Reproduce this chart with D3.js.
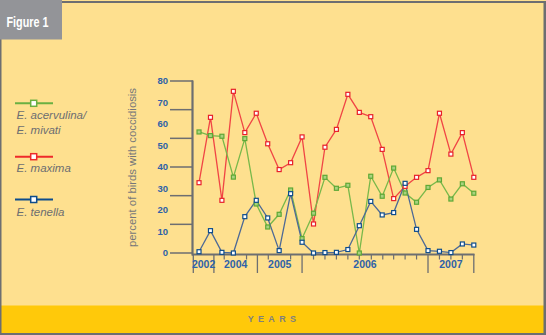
<!DOCTYPE html>
<html><head><meta charset="utf-8">
<script src="https://cdn.jsdelivr.net/npm/d3@7"></script>
<style>
html,body{margin:0;padding:0;background:#fff;}
svg{display:block;}
</style></head>
<body>
<svg id="c" width="546" height="335"></svg>
<script>
// ---- data ----
const seriesNames = ["E. acervulina/ E. mivati", "E. maxima", "E. tenella"];
const acervulina = [56.3,54.6,54.3,35.3,53.2,22.8,12.1,18,29.3,6.7,18.5,35.2,30.1,31.5,0,35.7,26.4,39.5,27.9,23.6,30.5,34,25.1,32.2,27.8];
const maxima     = [32.7,63.1,24.5,75.2,56,65,50.8,38.8,42,54,13.5,49.2,57.5,73.8,65.4,63.4,48.2,25.3,31,35.2,38.3,65,46,56,35.2];
const tenella    = [0.6,10.4,0.3,0,16.9,24.5,16.3,1.1,27.6,5,0,0.2,0.3,1.6,12.7,24,17.7,18.8,32.4,11,1.1,0.8,0.2,4.2,3.7];
const yTickLabels = [0,10,20,30,40,50,60,70,80];
const yearLabels = ["2002","2004","2005","2006","2007"];
const yearBounds = [-0.5,1.3,5.1,9,20,24];            // section separators (sample-index units)
const minorTicks = [2.2,4.15,6.05,8,10,11,12,13,14,15.05,16.05,17,18,19,21,22,23];
const yGridCount = 6;

// ---- layout ----
const svg = d3.select("#c");
const W = 546, H = 335;
const bg = "#FEE08F", band = "#FFC90A", frame = "#6d6e71";
const x = d3.scaleLinear().domain([-0.5, 24]).range([193.3, 473.8]);
const y = d3.scaleLinear().domain([0, 80]).range([253, 81]);
const narrow = "'Liberation Sans Narrow','Arial Narrow','Liberation Sans',Arial,sans-serif";

svg.append("rect").attr("x",0).attr("y",0).attr("width",W).attr("height",H).attr("fill",bg);
svg.append("rect").attr("x",0).attr("y",305.5).attr("width",W).attr("height",28).attr("fill",band);
// frame
svg.append("rect").attr("x",62).attr("y",1).attr("width",W-62).attr("height",2).attr("fill",frame);
svg.append("rect").attr("x",543.5).attr("y",1).attr("width",2.5).attr("height",H).attr("fill",frame);
svg.append("rect").attr("x",0).attr("y",333).attr("width",W).attr("height",2).attr("fill",frame);
svg.append("rect").attr("x",0).attr("y",39).attr("width",1.5).attr("height",H-39).attr("fill",frame);
svg.append("rect").attr("x",0).attr("y",0).attr("width",62).attr("height",39.5).attr("fill","#939498");
svg.append("text").attr("x",6.5).attr("y",26.5).attr("fill","#fff")
  .attr("font-family",narrow).attr("font-weight","bold").attr("font-size",15)
  .attr("textLength",42).attr("lengthAdjust","spacingAndGlyphs").text("Figure 1");

// y axis gridlines (tick lines on left)
const gy = svg.append("g");
d3.range(yGridCount+1).forEach(i=>{
  const v = 80*i/yGridCount;
  gy.append("line").attr("x1",170).attr("x2",193).attr("y1",y(v)).attr("y2",y(v))
    .attr("stroke",frame).attr("stroke-width",1.5);
});
gy.append("line").attr("x1",192.5).attr("x2",192.5).attr("y1",80.5).attr("y2",255.5)
  .attr("stroke",frame).attr("stroke-width",2.2);
gy.selectAll("text.yl").data(yTickLabels).join("text").attr("class","yl")
  .attr("x",168).attr("y",d=>y(d)).attr("dy","0.35em").attr("text-anchor","end")
  .attr("fill","#2f62a8").attr("font-family",narrow).attr("font-weight","bold").attr("font-size",9.5)
  .text(d=>d);
svg.append("text").attr("transform","translate(135.5,167.5) rotate(-90)")
  .attr("text-anchor","middle").attr("fill","#76777a").attr("font-family","'Liberation Sans',Arial,sans-serif")
  .attr("font-size",11.5).attr("textLength",159).attr("lengthAdjust","spacingAndGlyphs")
  .text("percent of birds with coccidiosis");

// x axis
const gx = svg.append("g");
gx.append("line").attr("x1",192).attr("x2",474.5).attr("y1",254.5).attr("y2",254.5)
  .attr("stroke",frame).attr("stroke-width",2.2);
gx.selectAll("line.maj").data(yearBounds).join("line").attr("class","maj")
  .attr("x1",d=>x(d)).attr("x2",d=>x(d)).attr("y1",254).attr("y2",273)
  .attr("stroke",frame).attr("stroke-width",1.3);
gx.selectAll("line.min").data(minorTicks).join("line").attr("class","min")
  .attr("x1",d=>x(d)).attr("x2",d=>x(d)).attr("y1",254).attr("y2",259.5)
  .attr("stroke",frame).attr("stroke-width",1.2);
gx.selectAll("text").data(yearLabels).join("text")
  .attr("x",(d,i)=>x((yearBounds[i]+yearBounds[i+1])/2)).attr("y",264.5).attr("dy","0.35em")
  .attr("text-anchor","middle").attr("fill","#2f62a8").attr("font-family",narrow)
  .attr("font-weight","bold").attr("font-size",10.5).text(d=>d);

svg.append("text").attr("x",274).attr("y",321.5).attr("text-anchor","middle")
  .attr("fill","#808080").attr("font-family","'Liberation Sans',Arial,sans-serif")
  .attr("font-weight","bold").attr("font-size",9).attr("letter-spacing",4.3).text("YEARS");

// series
const series = [
  {vals: maxima,     line:"#f04545", mark:"#e8202a", fill:"#ffffff"},
  {vals: acervulina, line:"#78b84a", mark:"#5ea836", fill:"#a8d27e"},
  {vals: tenella,    line:"#4d6996", mark:"#0d4c8c", fill:"#ffffff"}
];
const line = d3.line().x((d,i)=>x(i)).y(d=>y(d));
series.forEach(s=>{
  svg.append("path").datum(s.vals).attr("d",line).attr("fill","none")
    .attr("stroke",s.line).attr("stroke-width",1.3);
});
series.forEach(s=>{
  svg.append("g").selectAll("rect").data(s.vals).join("rect")
    .attr("x",(d,i)=>x(i)-2).attr("y",d=>y(d)-2).attr("width",4).attr("height",4)
    .attr("fill",s.fill).attr("stroke",s.mark).attr("stroke-width",1.2);
});

// legend
const legend = [
  {ly:103.3, color:"#6ab042", lines:[["E. acervulina/",118.5],["E. mivati",133.5]]},
  {ly:156.7, color:"#ee2a2a", lines:[["E. maxima",171.5]]},
  {ly:199.5, color:"#0d4c8c", lines:[["E. tenella",216]]}
];
legend.forEach(l=>{
  svg.append("line").attr("x1",15).attr("x2",53).attr("y1",l.ly).attr("y2",l.ly)
    .attr("stroke",l.color).attr("stroke-width",2);
  svg.append("rect").attr("x",30.7).attr("y",l.ly-3).attr("width",6).attr("height",6)
    .attr("fill","#fff").attr("stroke",l.color).attr("stroke-width",1.5);
  l.lines.forEach(t=>{
    svg.append("text").attr("x",16.5).attr("y",t[1]).attr("fill","#6d6e71")
      .attr("font-family",narrow).attr("font-style","italic").attr("font-size",11.5).text(t[0]);
  });
});
</script>
</body></html>
